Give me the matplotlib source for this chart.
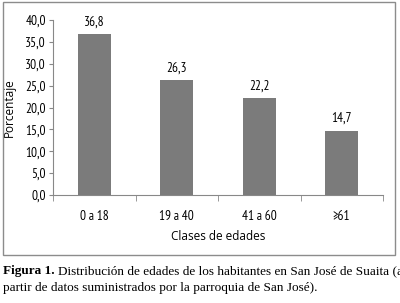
import matplotlib
matplotlib.use("Agg")
import matplotlib.pyplot as plt
from matplotlib.patches import Rectangle
from matplotlib.ticker import FuncFormatter, FixedLocator

categories = ["0 a 18", "19 a 40", "41 a 60", "≥61"]
values = [36.8, 26.3, 22.2, 14.7]
yticks = [0, 5, 10, 15, 20, 25, 30, 35, 40]

W, H = 400, 303
fig = plt.figure(figsize=(W/100, H/100), dpi=100)
fig.patch.set_facecolor("white")

narrow = ["PT Sans Narrow", "DejaVu Sans"]
sans = ["Open Sans", "DejaVu Sans"]
serif = ["Liberation Serif", "DejaVu Serif"]
fs_small = 9.5

ax = fig.add_axes([53/W, 1-195/H, 330/W, 175/H])
x = list(range(len(categories)))
bars = ax.bar(x, values, width=0.4, color="#7b7b7b")
ax.set_xlim(-0.5, len(categories)-0.5)
ax.set_ylim(0, 40)
ax.set_yticks(yticks)
ax.yaxis.set_major_formatter(FuncFormatter(lambda v, p: f"{v:.1f}".replace(".", ",")))
ax.set_xticks(x)
ax.set_xticklabels(categories, family=narrow, fontsize=fs_small)
ax.tick_params(axis="x", which="major", length=0, pad=11)
ax.xaxis.set_minor_locator(FixedLocator([i-0.5 for i in range(len(categories)+1)]))
ax.tick_params(axis="x", which="minor", length=4, direction="out", color="#888888")
ax.tick_params(axis="y", length=3, direction="out", color="#888888", pad=2)
for lab in ax.get_yticklabels():
    lab.set_family(narrow)
    lab.set_fontsize(fs_small)
for s in ["top", "right"]:
    ax.spines[s].set_visible(False)
for s in ["left", "bottom"]:
    ax.spines[s].set_color("#888888")
    ax.spines[s].set_linewidth(0.8)

ax.bar_label(bars, labels=[f"{v:.1f}".replace(".", ",") for v in values],
             padding=4, family=narrow, fontsize=fs_small)

ax.set_ylabel("Porcentaje", family=sans, fontsize=8.5, labelpad=7)
ax.set_xlabel("Clases de edades", family=sans, fontsize=8.5, labelpad=5)

fig.add_artist(Rectangle((3/W, 1-255/H), 392/W, 253/H, transform=fig.transFigure,
                         fill=False, edgecolor="#8c8c8c", lw=1))

y1 = 1-274/H
y2 = 1-291/H
t1 = fig.text(3/W, y1, "Figura 1.", family=serif, fontweight="bold", fontsize=9.5, va="baseline")
fig.canvas.draw()
bb = t1.get_window_extent()
fig.text(bb.x1/W + 3/W, y1, "Distribución de edades de los habitantes en San José de Suaita (a",
         family=serif, fontsize=9.5, va="baseline")
fig.text(3/W, y2, "partir de datos suministrados por la parroquia de San José).",
         family=serif, fontsize=9.5, va="baseline")

fig.savefig("out.png", dpi=100)
